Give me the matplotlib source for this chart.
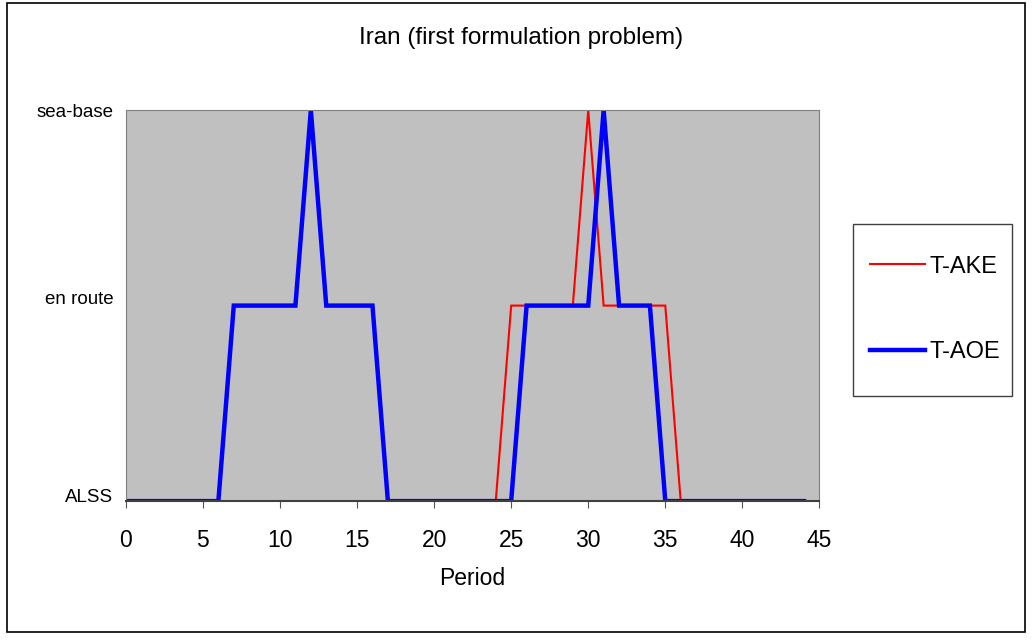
import matplotlib.pyplot as plt
from matplotlib.patches import Rectangle
from matplotlib.transforms import offset_copy

plt.rcParams['font.family'] = ['Liberation Sans', 'DejaVu Sans']

# period index and location state (0 = ALSS, 1 = en route, 2 = sea-base)
periods = list(range(45))
t_ake = [0] * 25 + [1] * 5 + [2] + [1] * 5 + [0] * 9
t_aoe = [0] * 7 + [1] * 5 + [2] + [1] * 4 + [0] * 9 + [1] * 5 + [2] + [1] * 3 + [0] * 10
level_labels = ['ALSS', 'en route', 'sea-base']

fig = plt.figure(figsize=(10.32, 6.4), dpi=100)
fig.patches.append(Rectangle((0.007, 0.012), 0.986, 0.983, transform=fig.transFigure,
                             fill=False, edgecolor='black', linewidth=1.2))

ax = fig.add_axes([0.122, 0.217, 0.672, 0.611])
ax.set_facecolor('#c0c0c0')
ax.plot(periods, t_ake, color='red', linewidth=1.5, label='T-AKE', solid_joinstyle='miter')
ax.plot(periods, t_aoe, color='blue', linewidth=3.2, label='T-AOE', solid_joinstyle='miter')

ax.set_xlim(0, 45)
ax.set_ylim(0, 2)
ax.set_xticks(range(0, 46, 5))
ax.set_yticks([0, 1, 2])
ax.set_yticklabels(level_labels, fontsize=13.5)
ax.tick_params(axis='y', length=0, pad=9)
ax.tick_params(axis='x', labelsize=16.5, length=5, direction='out', pad=15, color='#555555')
# excel nudges the lower labels up a little
for lab, dy in zip(ax.get_yticklabels(), [6, 8, 0]):
    lab.set_transform(offset_copy(lab.get_transform(), fig=fig, y=dy, units='dots'))
for side in ['top', 'left', 'right']:
    ax.spines[side].set_color('#808080')
ax.spines['bottom'].set_color('#404040')
ax.spines['bottom'].set_linewidth(1.5)

ax.set_xlabel('Period', fontsize=16.5, labelpad=11)
fig.text(0.505, 1 - 38 / 640, 'Iran (first formulation problem)', fontsize=17.5,
         ha='center', va='center')

# legend box drawn by hand, entries placed inside it
fig.patches.append(Rectangle((853 / 1032, 1 - 396 / 640), 159 / 1032, 172 / 640,
                             transform=fig.transFigure, fill=True, facecolor='white',
                             edgecolor='#404040', linewidth=1.0))
fig.legend(loc='center', bbox_to_anchor=(935 / 1032, 1 - 309.5 / 640),
           fontsize=17, frameon=False, handlelength=2.33, labelspacing=2.7,
           borderpad=0, handletextpad=0.2, borderaxespad=0)

fig.savefig('out.png', dpi=100)
